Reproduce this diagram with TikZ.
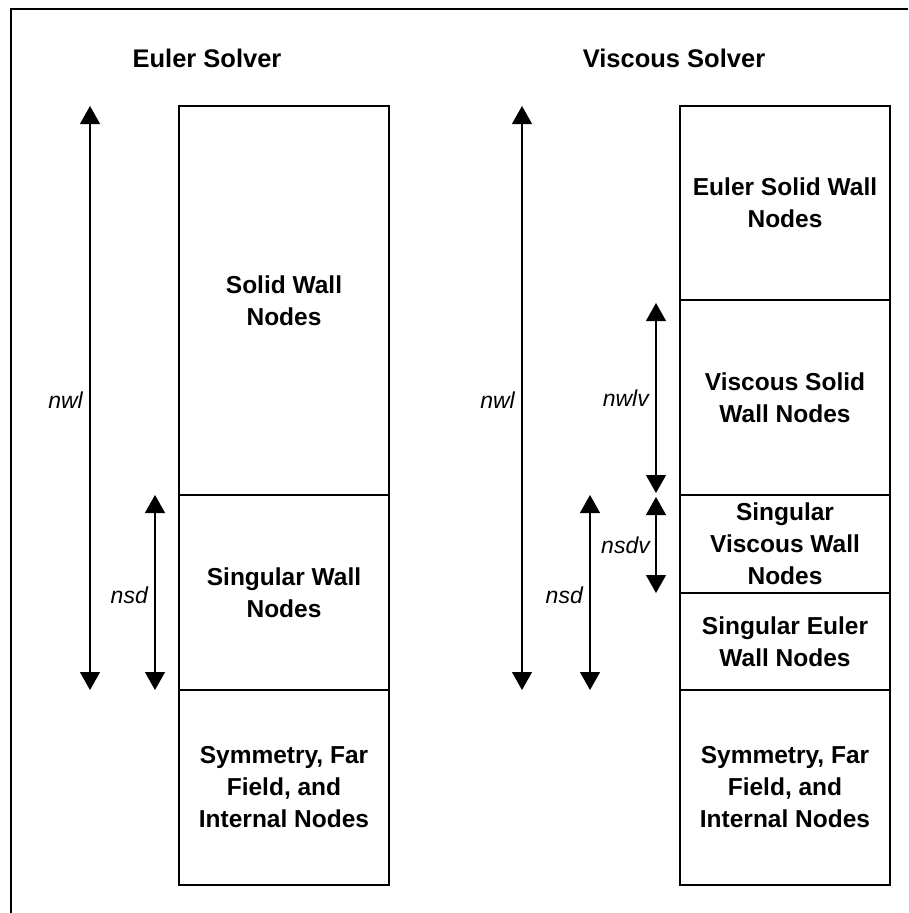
\documentclass[tikz,border=0pt]{standalone}
\usepackage{fontspec}
\setmainfont{Liberation Sans}
\usetikzlibrary{positioning,arrows.meta}
\tikzset{
  blk/.style={draw, line width=1.2pt, outer sep=0pt, inner sep=0pt, minimum width=210pt,
    align=center, font=\bfseries\fontsize{24.5}{32}\selectfont},
  ttl/.style={font=\bfseries\fontsize{25.5}{28}\selectfont},
  dim/.style={line width=1.2pt, {Triangle[width=20pt,length=18pt]}-{Triangle[width=20pt,length=18pt]}},
  lbl/.style={anchor=east, inner sep=0pt, font=\itshape\fontsize{23}{26}\selectfont},
}

\begin{document}
\begin{tikzpicture}[x=1pt,y=-1pt]
  \useasboundingbox (0,0) rectangle (908,913);
  \draw[line width=1.2pt] (908,9) -- (11,9) -- (11,913);

  % Euler solver
  \node[ttl] (eul) at (207,58) {Euler Solver};
  \node[blk, minimum height=389pt, anchor=north west] (Lwall) at (179,106) {Solid Wall\\Nodes};
  \node[blk, minimum height=195pt, below=0pt of Lwall] (Lsing) {Singular Wall\\Nodes};
  \node[blk, minimum height=195pt, below=0pt of Lsing] (Lsym) {Symmetry, Far\\Field, and\\Internal Nodes};
  \coordinate (La) at (90,0);
  \coordinate (Lb) at (155,0);
  \draw[dim] (Lwall.north -| La) -- (Lsing.south -| La);
  \draw[dim] (Lsing.north -| Lb) -- (Lsing.south -| Lb);
  \node[lbl] (Lnwl) at (83,400) {nwl};
  \node[lbl] (Lnsd) at (148,595) {nsd};

  % Viscous solver
  \node[ttl] (visc) at (674,58) {Viscous Solver};
  \node[blk, minimum height=194pt, anchor=north west] (Rewall) at (680,106) {Euler Solid Wall\\Nodes};
  \node[blk, minimum height=195pt, below=0pt of Rewall] (Rvwall) {Viscous Solid\\Wall Nodes};
  \node[blk, minimum height=98pt, below=0pt of Rvwall] (Rvsing) {Singular\\Viscous Wall\\Nodes};
  \node[blk, minimum height=97pt, below=0pt of Rvsing] (Resing) {Singular Euler\\Wall Nodes};
  \node[blk, minimum height=195pt, below=0pt of Resing] (Rsym) {Symmetry, Far\\Field, and\\Internal Nodes};
  \coordinate (Ra) at (522,0);
  \coordinate (Rb) at (590,0);
  \coordinate (Rc) at (656,0);
  \draw[dim] (Rewall.north -| Ra) -- (Resing.south -| Ra);
  \draw[dim] (Rvsing.north -| Rb) -- (Resing.south -| Rb);
  \draw[dim] ([yshift=-3pt]Rvwall.north -| Rc) -- ([yshift=2pt]Rvwall.south -| Rc);
  \draw[dim] ([yshift=-2pt]Rvsing.north -| Rc) -- (Rvsing.south -| Rc);
  \node[lbl] (Rnwl) at (515,400) {nwl};
  \node[lbl] (Rnsd) at (583,595) {nsd};
  \node[lbl] (Rnwlv) at (649,398) {nwlv};
  \node[lbl] (Rnsdv) at (650,545) {nsdv};
\end{tikzpicture}
\end{document}
